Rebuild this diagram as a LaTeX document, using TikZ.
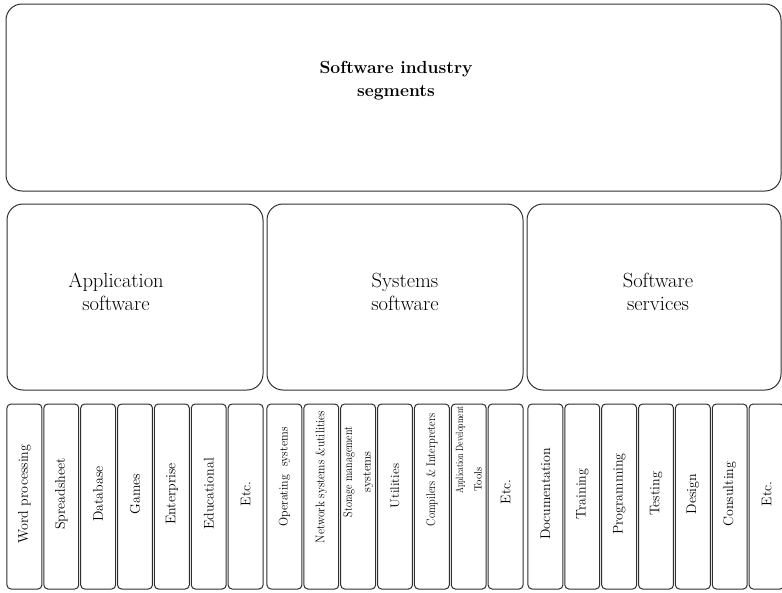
\documentclass[tikz,border=0pt]{standalone}
\usepackage{fontspec}
\begin{document}
\begin{tikzpicture}[x=1pt,y=-1pt]
\tikzset{
  edgeline/.style={draw=black!82, line width=1pt},
  panel/.style={edgeline, rounded corners=16pt, inner sep=0pt, outer sep=0pt},
  cellbox/.style={edgeline, rounded corners=4pt, minimum width=34.9pt,
    minimum height=185pt, inner sep=0pt, outer sep=0pt},
  celltxt/.style={rotate=90, inner sep=0pt, align=center,
    font=\fontsize{14}{17}\selectfont},
  systxt/.style={rotate=90, inner sep=0pt, align=center,
    font=\fontsize{12.5}{18.5}\selectfont},
  headtxt/.style={inner sep=0pt, align=center,
    font=\fontsize{20.5}{22.5}\selectfont},
}
\useasboundingbox (0,0) rectangle (782,592);
\clip (0,0) rectangle (782,592);

% top level
\node[panel, minimum width=775pt, minimum height=187pt] (top) at (393.5,97.5) {};
\node[inner sep=0pt, align=center, font=\fontsize{17.5}{23}\selectfont\bfseries]
  (toptxt) at (396,81) {Software industry\\segments};

% the three segments
\node[panel, minimum width=256pt, minimum height=186pt] (app) at (135,297) {};
\node[panel, minimum width=256pt, minimum height=186pt] (sys) at (395,297) {};
\node[panel, minimum width=254pt, minimum height=186pt] (serv) at (654,297) {};
\node[headtxt] (apptxt) at (116,292) {Application\\software};
\node[headtxt] (systxt) at (405,292) {Systems\\software};
\node[headtxt] (servtxt) at (658,292) {Software\\services};

% sub-segment cells
\foreach \i in {0,...,6} {
  \node[cellbox] (a\i) at ({24.43+36.86*\i},496.5) {};
  \node[cellbox] (s\i) at ({284.43+36.86*\i},496.5) {};
  \node[cellbox] (v\i) at ({545.43+36.86*\i},496.5) {};
}

% application software
\foreach \i/\t in {0/Word processing,1/Spreadsheet,2/Database,3/Games,
                   4/Enterprise,5/Educational,6/Etc.}
  \node[celltxt] (ta\i) at ([yshift=2.5pt]a\i.center) {\t};

% systems software
\node[systxt] (ts0) at ([yshift=19.5pt]s0.center)
  {\scalebox{0.96}[1]{Operating\ \ systems}};
\node[systxt] (ts1) at ([yshift=19.5pt]s1.center)
  {\scalebox{0.92}[1]{Network systems \&utilities}};
\node[systxt] (ts2) at ([yshift=24.5pt]s2.center)
  {\scalebox{0.81}[1]{Storage management}\\systems};
\node[systxt] (ts3) at ([yshift=10.5pt]s3.center) {\scalebox{1.05}[1]{Utilities}};
\node[systxt] (ts4) at ([yshift=26.5pt]s4.center)
  {\scalebox{0.84}[1]{Compilers \& Interpreters}};
\node[systxt, align=left, anchor=west, font=\fontsize{10.5}{18.5}\selectfont]
  (ts5) at ([yshift=2.5pt]s5.center)
  {\scalebox{0.75}[1]{Application Development}\\\hspace*{2pt}Tools};
\node[celltxt] (ts6) at ([yshift=4.5pt]s6.center) {Etc.};

% software services
\foreach \i/\t in {0/Documentation,1/Training,2/Programming,3/Testing,
                   4/Design,5/Consulting,6/Etc.}
  \node[celltxt] (tv\i) at ([yshift=2.5pt]v\i.center) {\t};
\end{tikzpicture}
\end{document}
